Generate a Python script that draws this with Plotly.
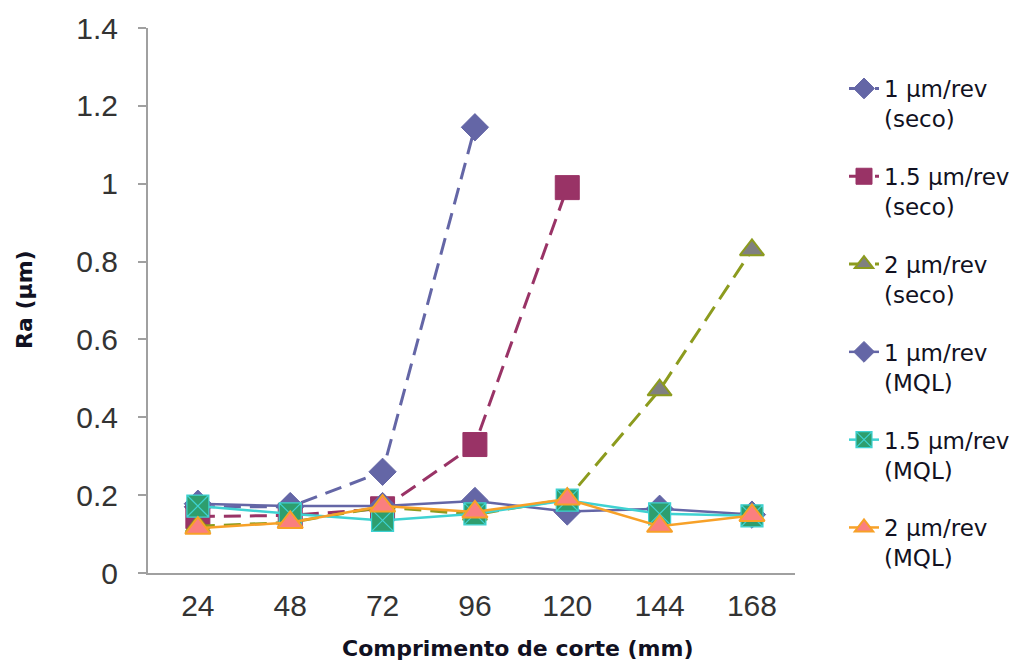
import plotly.graph_objects as go

categories = ["24", "48", "72", "96", "120", "144", "168"]

seco_1 = [0.17, 0.17, 0.26, 1.145, None, None, None]
seco_15 = [0.145, 0.148, 0.165, 0.33, 0.99, None, None]
seco_2 = [0.12, 0.13, 0.17, 0.15, 0.19, 0.47, 0.83]
mql_1 = [0.178, 0.172, 0.172, 0.185, 0.158, 0.165, 0.15]
mql_15 = [0.172, 0.152, 0.135, 0.152, 0.187, 0.152, 0.147]
mql_2 = [0.115, 0.13, 0.172, 0.157, 0.19, 0.12, 0.148]

names = [
    "1 µm/rev<br>(seco)",
    "1.5 µm/rev<br>(seco)",
    "2 µm/rev<br>(seco)",
    "1 µm/rev<br>(MQL)",
    "1.5 µm/rev<br>(MQL)",
    "2 µm/rev<br>(MQL)",
]

y_ticks = [0, 0.2, 0.4, 0.6, 0.8, 1, 1.2, 1.4]
y_tick_text = ["0", "0.2", "0.4", "0.6", "0.8", "1", "1.2", "1.4"]

SLATE = "#6466A6"
MAROON = "#993366"
OLIVE = "#8C9B1E"
TURQ = "#3FD2D2"
GREEN = "#2E9E6E"
ORANGE = "#F7A128"
SALMON = "#FA7F7F"

DASH = "17px,9px"

fig = go.Figure()

styles = [
    (seco_1, dict(color=SLATE, width=3, dash=DASH), dict(symbol="diamond", size=21, color=SLATE, line=dict(color=SLATE, width=1))),
    (seco_15, dict(color=MAROON, width=3, dash=DASH), dict(symbol="square", size=24, color=MAROON, line=dict(color=MAROON, width=1))),
    (seco_2, dict(color=OLIVE, width=3, dash=DASH), dict(symbol="triangle-up", size=21, color="#808080", line=dict(color=OLIVE, width=2))),
    (mql_1, dict(color=SLATE, width=2.5), dict(symbol="diamond", size=21, color=SLATE, line=dict(color=SLATE, width=1))),
    (mql_15, dict(color=TURQ, width=2.5), dict(symbol="square-x", size=22, color=GREEN, line=dict(color=TURQ, width=1.2))),
    (mql_2, dict(color=ORANGE, width=2.5), dict(symbol="triangle-up", size=22, color=SALMON, line=dict(color=ORANGE, width=2))),
]

for i, (vals, line, marker) in enumerate(styles):
    fig.add_trace(go.Scatter(
        x=categories, y=vals, name=names[i], mode="lines+markers",
        line=line, marker=marker, legendgroup=f"g{i}", connectgaps=False,
    ))

# the page body has an 8px margin; the figure is sized/positioned to compensate
OFF = 8
W, H = 1031 - OFF, 663 - OFF
L, T = 148 - OFF, 28 - OFF
R = W - (795 - OFF)
B = H - (573 - OFF)
PW = W - L - R
PH = H - T - B


def px(xpage):
    return (xpage - OFF - L) / PW


def py(ypage):
    return (H - B - (ypage - OFF)) / PH


fig.update_layout(
    width=W, height=H,
    margin=dict(l=L, r=R, t=T, b=B, autoexpand=False),
    paper_bgcolor="white", plot_bgcolor="white",
    showlegend=True,
    legend=dict(
        x=px(844), xanchor="left", y=py(67), yanchor="top",
        font=dict(family="DejaVu Sans", size=23, color="#111122"),
        tracegroupgap=25, valign="top", itemwidth=30,
        bgcolor="rgba(0,0,0,0)",
    ),
    xaxis=dict(
        type="category", range=[-0.54, 6.466],
        showline=True, linecolor="#A0A0A0", linewidth=2,
        showgrid=False, ticks="", zeroline=False, ticklabelstandoff=5,
        tickfont=dict(family="Liberation Sans, Arial", size=30, color="#333333"),
    ),
    yaxis=dict(
        range=[0, 1.4], tickvals=y_ticks, ticktext=y_tick_text,
        showline=True, linecolor="#A0A0A0", linewidth=2,
        showgrid=False, ticks="outside", ticklen=8, tickcolor="#A0A0A0", tickwidth=2,
        zeroline=False, ticklabelstandoff=14,
        tickfont=dict(family="Liberation Sans, Arial", size=30, color="#333333"),
    ),
    annotations=[
        dict(
            text="<b>Comprimento de corte (mm)</b>", xref="paper", yref="paper",
            x=px(518), y=py(648), xanchor="center", yanchor="middle", showarrow=False,
            font=dict(family="DejaVu Sans", size=22, color="#111122"),
        ),
        dict(
            text="<b>Ra (µm)</b>", xref="paper", yref="paper", textangle=-90,
            x=px(24), y=py(300), xanchor="center", yanchor="middle", showarrow=False,
            font=dict(family="DejaVu Sans", size=22, color="#111122"),
        ),
    ],
)

fig.write_html("out.html")
